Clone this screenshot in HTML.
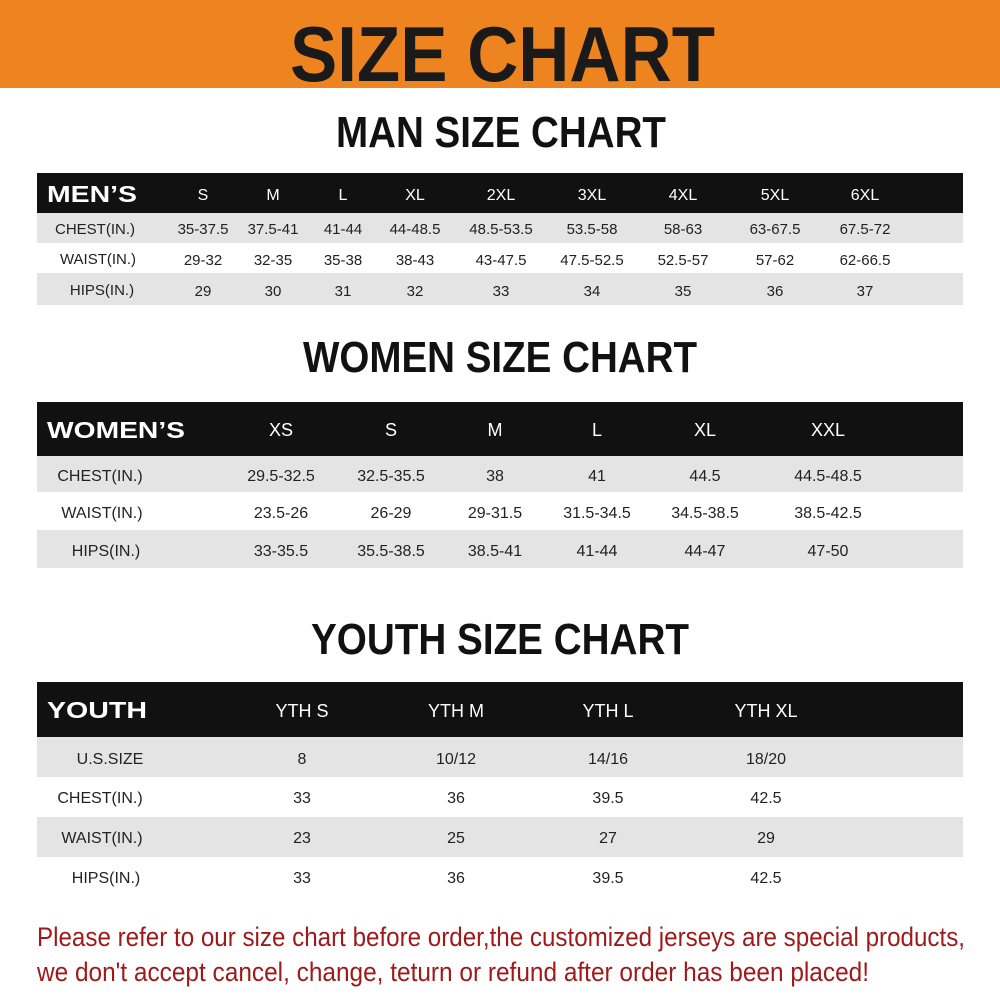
<!DOCTYPE html>
<html><head><meta charset="utf-8"><style>
html,body{margin:0;padding:0;background:#fff;}
svg{display:block;}
text{font-family:"Liberation Sans",sans-serif;}
</style></head><body>
<svg width="1000" height="1000" viewBox="0 0 1000 1000" xmlns="http://www.w3.org/2000/svg">
<rect x="0" y="0" width="1000" height="1000" fill="#fff"/>
<rect x="0" y="0" width="1000" height="88" fill="#ee8420"/>
<text x="290" y="81" font-size="78" font-weight="bold" fill="#1a1a1a" textLength="425" lengthAdjust="spacingAndGlyphs">SIZE CHART</text>

<text x="336" y="147" font-size="44" font-weight="bold" fill="#111" textLength="330" lengthAdjust="spacingAndGlyphs">MAN SIZE CHART</text>
<rect x="37" y="173" width="926" height="40" fill="#111"/>
<rect x="37" y="213" width="926" height="30" fill="#e4e4e4"/>
<rect x="37" y="273" width="926" height="32" fill="#e4e4e4"/>
<text x="47" y="202" font-size="23" font-weight="bold" fill="#fff" textLength="90" lengthAdjust="spacingAndGlyphs">MEN’S</text>
<g font-size="16" fill="#fff" text-anchor="middle">
<text x="203" y="200">S</text><text x="273" y="200">M</text><text x="343" y="200">L</text><text x="415" y="200">XL</text><text x="501" y="200">2XL</text><text x="592" y="200">3XL</text><text x="683" y="200">4XL</text><text x="775" y="200">5XL</text><text x="865" y="200">6XL</text>
</g>
<g font-size="15" fill="#222" text-anchor="middle">
<text x="95" y="234">CHEST(IN.)</text><text x="98" y="264">WAIST(IN.)</text><text x="102" y="295">HIPS(IN.)</text>
<text x="203" y="234">35-37.5</text><text x="273" y="234">37.5-41</text><text x="343" y="234">41-44</text><text x="415" y="234">44-48.5</text><text x="501" y="234">48.5-53.5</text><text x="592" y="234">53.5-58</text><text x="683" y="234">58-63</text><text x="775" y="234">63-67.5</text><text x="865" y="234">67.5-72</text>
<text x="203" y="265">29-32</text><text x="273" y="265">32-35</text><text x="343" y="265">35-38</text><text x="415" y="265">38-43</text><text x="501" y="265">43-47.5</text><text x="592" y="265">47.5-52.5</text><text x="683" y="265">52.5-57</text><text x="775" y="265">57-62</text><text x="865" y="265">62-66.5</text>
<text x="203" y="296">29</text><text x="273" y="296">30</text><text x="343" y="296">31</text><text x="415" y="296">32</text><text x="501" y="296">33</text><text x="592" y="296">34</text><text x="683" y="296">35</text><text x="775" y="296">36</text><text x="865" y="296">37</text>
</g>

<text x="303" y="372" font-size="44" font-weight="bold" fill="#111" textLength="394" lengthAdjust="spacingAndGlyphs">WOMEN SIZE CHART</text>
<rect x="37" y="402" width="926" height="54" fill="#111"/>
<rect x="37" y="456" width="926" height="36" fill="#e4e4e4"/>
<rect x="37" y="530" width="926" height="38" fill="#e4e4e4"/>
<text x="47" y="438" font-size="23" font-weight="bold" fill="#fff" textLength="138" lengthAdjust="spacingAndGlyphs">WOMEN’S</text>
<g font-size="18" fill="#fff" text-anchor="middle">
<text x="281" y="436">XS</text><text x="391" y="436">S</text><text x="495" y="436">M</text><text x="597" y="436">L</text><text x="705" y="436">XL</text><text x="828" y="436">XXL</text>
</g>
<g font-size="16" fill="#222" text-anchor="middle">
<text x="100" y="481">CHEST(IN.)</text><text x="102" y="518">WAIST(IN.)</text><text x="106" y="556">HIPS(IN.)</text>
<text x="281" y="481">29.5-32.5</text><text x="391" y="481">32.5-35.5</text><text x="495" y="481">38</text><text x="597" y="481">41</text><text x="705" y="481">44.5</text><text x="828" y="481">44.5-48.5</text>
<text x="281" y="518">23.5-26</text><text x="391" y="518">26-29</text><text x="495" y="518">29-31.5</text><text x="597" y="518">31.5-34.5</text><text x="705" y="518">34.5-38.5</text><text x="828" y="518">38.5-42.5</text>
<text x="281" y="556">33-35.5</text><text x="391" y="556">35.5-38.5</text><text x="495" y="556">38.5-41</text><text x="597" y="556">41-44</text><text x="705" y="556">44-47</text><text x="828" y="556">47-50</text>
</g>

<text x="311" y="654" font-size="44" font-weight="bold" fill="#111" textLength="378" lengthAdjust="spacingAndGlyphs">YOUTH SIZE CHART</text>
<rect x="37" y="682" width="926" height="55" fill="#111"/>
<rect x="37" y="737" width="926" height="40" fill="#e4e4e4"/>
<rect x="37" y="817" width="926" height="40" fill="#e4e4e4"/>
<text x="47" y="718" font-size="23" font-weight="bold" fill="#fff" textLength="100" lengthAdjust="spacingAndGlyphs">YOUTH</text>
<g font-size="18" fill="#fff" text-anchor="middle">
<text x="302" y="717">YTH S</text><text x="456" y="717">YTH M</text><text x="608" y="717">YTH L</text><text x="766" y="717">YTH XL</text>
</g>
<g font-size="16" fill="#222" text-anchor="middle">
<text x="110" y="764">U.S.SIZE</text><text x="100" y="803">CHEST(IN.)</text><text x="102" y="843">WAIST(IN.)</text><text x="106" y="883">HIPS(IN.)</text>
<text x="302" y="764">8</text><text x="456" y="764">10/12</text><text x="608" y="764">14/16</text><text x="766" y="764">18/20</text>
<text x="302" y="803">33</text><text x="456" y="803">36</text><text x="608" y="803">39.5</text><text x="766" y="803">42.5</text>
<text x="302" y="843">23</text><text x="456" y="843">25</text><text x="608" y="843">27</text><text x="766" y="843">29</text>
<text x="302" y="883">33</text><text x="456" y="883">36</text><text x="608" y="883">39.5</text><text x="766" y="883">42.5</text>
</g>

<text x="37" y="946" font-size="27" fill="#9e1a1a" textLength="928" lengthAdjust="spacingAndGlyphs">Please refer to our size chart before order,the customized jerseys are special products,</text>
<text x="37" y="981" font-size="27" fill="#9e1a1a" textLength="832" lengthAdjust="spacingAndGlyphs">we don't accept cancel, change, teturn or refund after order has been placed!</text>
</svg>
</body></html>
